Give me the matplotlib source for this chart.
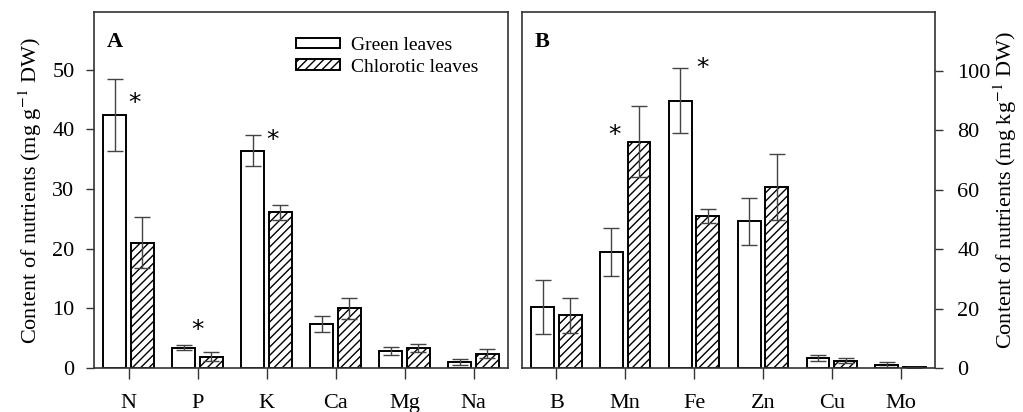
import numpy as np
import matplotlib
matplotlib.use('Agg')
from matplotlib import pyplot as plt
from matplotlib.patches import Patch

plt.rcParams['font.family'] = ['Liberation Serif', 'DejaVu Serif']
plt.rcParams['mathtext.fontset'] = 'stix'
plt.rcParams['hatch.linewidth'] = 1.0

# panel A: macronutrients (mg g-1 DW)
macro_labels = ['N', 'P', 'K', 'Ca', 'Mg', 'Na']
macro_green = [42.4, 3.4, 36.4, 7.4, 2.85, 1.0]
macro_green_err = [6.0, 0.45, 2.6, 1.4, 0.65, 0.5]
macro_chl = [21.0, 1.9, 26.1, 10.0, 3.4, 2.4]
macro_chl_err = [4.3, 0.7, 1.2, 1.7, 0.7, 0.8]
macro_star_x = [0.09, 1.0, 2.09]
macro_star_y = [44.5, 6.4, 38.3]

# panel B: micronutrients (mg kg-1 DW)
micro_labels = ['B', 'Mn', 'Fe', 'Zn', 'Cu', 'Mo']
micro_green = [20.6, 39.1, 89.9, 49.3, 3.35, 1.1]
micro_green_err = [9.0, 8.0, 11.0, 8.0, 0.9, 0.8]
micro_chl = [17.7, 76.1, 51.1, 60.9, 2.45, 0.2]
micro_chl_err = [6.0, 12.0, 2.2, 11.0, 0.9, 0.1]
micro_star_x = [0.84, 2.12]
micro_star_y = [78.4, 100.8]

W = 0.33
OFF = 0.2
FS = 16
SPINE = '#333333'


def draw_panel(ax, labels, green, green_err, chl, chl_err, star_x, star_y):
    x = np.arange(len(labels))
    ekw = dict(ecolor='#444444', elinewidth=1.0, capsize=5.5, capthick=1.0)
    ax.bar(x - OFF, green, W, yerr=green_err, color='white',
           edgecolor='black', linewidth=1.4, error_kw=ekw, zorder=2)
    ax.bar(x + OFF, chl, W, yerr=chl_err, color='white', hatch='////',
           edgecolor='black', linewidth=1.4, error_kw=ekw, zorder=2)
    for sx, sy in zip(star_x, star_y):
        ax.text(sx, sy, '*', ha='center', va='center', fontsize=18,
                fontfamily='DejaVu Sans')
    ax.set_xlim(-0.5, len(labels) - 0.5)
    ax.set_xticks(x)
    ax.set_xticklabels(labels, fontsize=FS)
    ax.tick_params(axis='x', direction='out', length=8, width=1,
                   color=SPINE, pad=11)
    ax.tick_params(axis='y', direction='out', length=6, width=1,
                   color=SPINE, labelsize=FS, pad=8)
    for s in ax.spines.values():
        s.set_color(SPINE)
        s.set_linewidth(1.2)


fig = plt.figure(figsize=(10.23, 4.12), dpi=100)
axA = fig.add_axes([94 / 1023, 44 / 412, 414 / 1023, 356 / 412])
axB = fig.add_axes([522 / 1023, 44 / 412, 413 / 1023, 356 / 412])

draw_panel(axA, macro_labels, macro_green, macro_green_err, macro_chl,
           macro_chl_err, macro_star_x, macro_star_y)
axA.set_ylim(0, 59.7)
axA.set_yticks([0, 10, 20, 30, 40, 50])
axA.set_ylabel('Content of nutrients (mg g$^{-1}$ DW)', fontsize=FS, labelpad=6)
axA.text(0.03, 0.915, 'A', transform=axA.transAxes, fontsize=FS,
         fontweight='bold', va='center', ha='left')
handles = [Patch(facecolor='white', edgecolor='black', linewidth=1.4),
           Patch(facecolor='white', edgecolor='black', linewidth=1.4, hatch='////')]
axA.legend(handles, ['Green leaves', 'Chlorotic leaves'], loc='upper left',
           bbox_to_anchor=(0.488, 0.93), frameon=False, fontsize=14,
           borderpad=0, borderaxespad=0,
           handlelength=2.27, handleheight=0.45, handletextpad=0.57,
           labelspacing=0.24)

draw_panel(axB, micro_labels, micro_green, micro_green_err, micro_chl,
           micro_chl_err, micro_star_x, micro_star_y)
axB.set_ylim(0, 119.7)
axB.set_yticks([0, 20, 40, 60, 80, 100])
axB.yaxis.tick_right()
axB.yaxis.set_label_position('right')
axB.tick_params(axis='y', direction='out', length=6, width=1,
                color=SPINE, labelsize=FS, pad=10)
axB.set_ylabel('Content of nutrients (mg kg$^{-1}$ DW)', fontsize=FS, labelpad=1)
axB.text(0.03, 0.915, 'B', transform=axB.transAxes, fontsize=FS,
         fontweight='bold', va='center', ha='left')

plt.savefig('out.png', dpi=100)
